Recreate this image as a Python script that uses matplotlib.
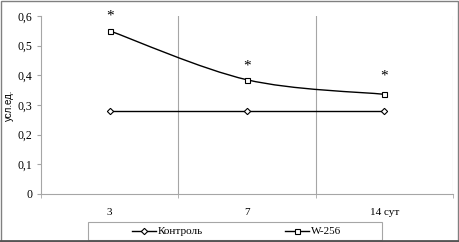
import numpy as np
import matplotlib
matplotlib.use("Agg")
import matplotlib.pyplot as plt
from matplotlib.path import Path
from matplotlib.patches import PathPatch, Rectangle
from matplotlib.lines import Line2D

days = ["3", "7", "14 сут"]
control = [0.28, 0.28, 0.28]
w256 = [0.55, 0.385, 0.336]
star_y = [0.6, 0.432, 0.398]
yticks = [0, 0.1, 0.2, 0.3, 0.4, 0.5, 0.6]

serif = "Liberation Serif"
grey = "#a6a6a6"
W, H = 459, 242

fig = plt.figure(figsize=(W / 100, H / 100), dpi=100)
ax = fig.add_axes([41 / W, 48 / H, 412 / W, 178 / H])

x = np.arange(len(days))
ax.set_xlim(-0.5, len(days) - 0.5)
ax.set_ylim(0, 0.6)

# category boundaries as vertical grid lines
for b in [0.5, 1.5, 2.5]:
    ax.axvline(b, color=grey, lw=0.8, zorder=0)

# control line
ax.plot(x, control, color="black", lw=1.0, marker="D", ms=3.2,
        mfc="white", mec="black", mew=0.8, zorder=3)

# W-256 smoothed line (catmull-rom style bezier through the points)
pts = np.column_stack([x, w256]).astype(float)
verts = [tuple(pts[0])]
codes = [Path.MOVETO]
t = 1 / 6
for i in range(len(pts) - 1):
    p0 = pts[i - 1] if i > 0 else pts[i]
    p1 = pts[i]
    p2 = pts[i + 1]
    p3 = pts[i + 2] if i + 2 < len(pts) else pts[i + 1]
    c1 = p1 + (p2 - p0) * t
    c2 = p2 - (p3 - p1) * t
    verts += [tuple(c1), tuple(c2), tuple(p2)]
    codes += [Path.CURVE4] * 3
ax.add_patch(PathPatch(Path(verts, codes), fc="none", ec="black", lw=1.0, zorder=3))
ax.plot(x, w256, ls="none", marker="s", ms=3.6, mfc="white", mec="black",
        mew=0.8, zorder=4)

for xi, yi in zip(x, star_y):
    ax.text(xi, yi, "*", ha="center", va="center", fontsize=11,
            family=serif, clip_on=False)

ax.set_xticks(x)
ax.set_xticklabels(days, family=serif, fontsize=8)
ax.set_xticks([-0.5, 0.5, 1.5, 2.5], minor=True)
ax.tick_params(axis="x", which="major", length=0, pad=10)
ax.tick_params(axis="x", which="minor", length=3, color=grey)
ax.set_yticks(yticks)
ax.set_yticklabels([("%.1f" % v).replace(".", ",") if v else "0" for v in yticks],
                   family=serif, fontsize=8.5)
ax.tick_params(axis="y", length=3, color=grey, pad=3)

for s in ["top", "right"]:
    ax.spines[s].set_visible(False)
ax.spines["left"].set_color(grey)
ax.spines["bottom"].set_color(grey)
ax.spines["left"].set_linewidth(0.8)
ax.spines["bottom"].set_linewidth(0.8)

ax.set_ylabel("усл.ед.", family="Liberation Sans", fontsize=7, labelpad=3)

handles = [
    Line2D([], [], color="black", lw=1.0, marker="D", ms=3.2, mfc="white", mec="black", mew=0.8),
    Line2D([], [], color="black", lw=1.0, marker="s", ms=3.6, mfc="white", mec="black", mew=0.8),
]
leg = fig.legend(handles, ["Контроль", "W-256"], ncol=2, loc="center left",
                 bbox_to_anchor=(132 / W, 10.5 / H), prop={"family": serif, "size": 8},
                 frameon=False, handlelength=2.2, columnspacing=7.4,
                 borderpad=0, borderaxespad=0, handletextpad=0.1)

# legend box
fig.add_artist(Rectangle((88 / W, 2 / H), 294 / W, 18 / H, transform=fig.transFigure,
                         fc="none", ec=grey, lw=0.8))

# outer chart border
fig.add_artist(Rectangle((0.5 / W, 1.5 / H), (W - 1.5) / W, (H - 2) / H, transform=fig.transFigure,
                         fc="none", ec="#808080", lw=1.0))
fig.add_artist(Line2D([0, 1], [1.2 / H, 1.2 / H], transform=fig.transFigure,
                      color="#555555", lw=2.0))

fig.savefig("out.png", dpi=100)
